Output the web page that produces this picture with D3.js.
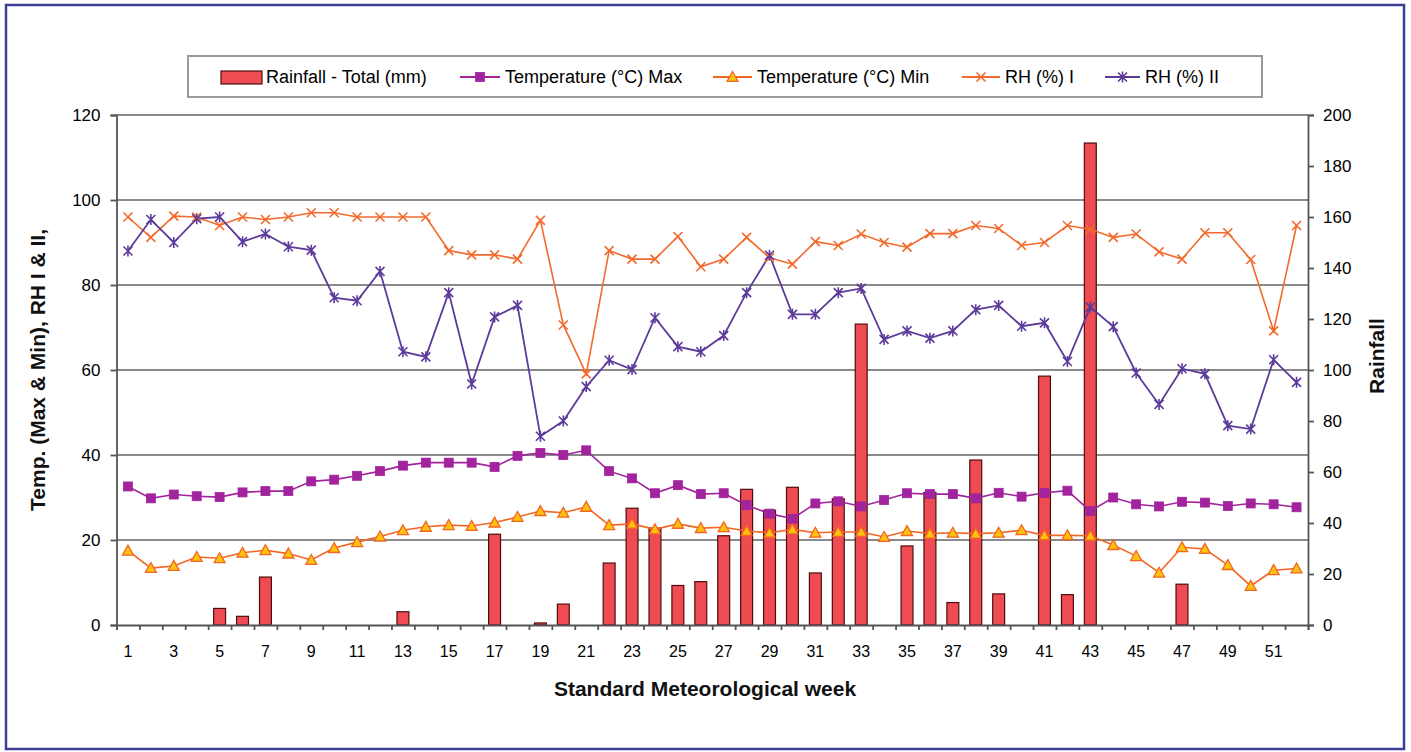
<!DOCTYPE html>
<html><head><meta charset="utf-8">
<script src="https://cdn.jsdelivr.net/npm/d3@7"></script>
<style>html,body{margin:0;padding:0;background:#fff;}svg{display:block;font-family:"Liberation Sans",Arial,sans-serif;}</style>
</head><body>
<svg id="c" width="1411" height="752"></svg>
<script>
const weeks = d3.range(1, 53);
const rainfall = [0,0,0,0,6.5,3.4,18.8,0,0,0,0,0,5.2,0,0,0,35.6,0,0.8,8.2,0,24.3,45.8,38,15.5,17,35,53.2,45,54,20.4,49.5,118,0,31,52,8.8,64.7,12.2,0,97.6,11.9,189,0,0,0,16,0,0,0,0,0];
const tempMax = [32.6,29.8,30.7,30.3,30.1,31.2,31.5,31.5,33.8,34.2,35.1,36.2,37.5,38.2,38.2,38.2,37.2,39.8,40.5,40.0,41.1,36.2,34.5,31.0,32.9,30.8,31.0,28.2,26.2,25.0,28.6,29.1,27.9,29.4,31.0,30.8,30.8,29.8,31.1,30.2,31.1,31.6,26.8,30.0,28.4,27.9,29.0,28.8,28.0,28.6,28.4,27.7];
const tempMin = [17.5,13.4,13.9,16.0,15.7,17.0,17.6,16.8,15.3,18.1,19.5,20.8,22.3,23.1,23.5,23.3,24.1,25.4,26.8,26.4,27.8,23.5,23.8,22.5,23.8,22.8,23.0,22.1,21.7,22.5,21.7,21.9,21.9,20.7,22.1,21.5,21.7,21.5,21.7,22.3,21.1,21.1,21.0,18.8,16.2,12.3,18.3,17.9,14.1,9.2,12.9,13.3];
const rh1 = [96,91.2,96.2,96,94,96,95.4,96,97,97,96,96,96,96,88.1,87.1,87.1,86.1,95.2,70.6,59.1,88.1,86.1,86.1,91.4,84.3,86.1,91.2,86.4,84.9,90.2,89.3,92,90,88.9,92.1,92.1,94,93.3,89.3,90,94,93.1,91.2,92,87.8,86.1,92.3,92.3,86,69.2,94];
const rh2 = [88,95.4,90,95.6,96,90.2,92,89,88.2,77,76.3,83.2,64.3,63.1,78.2,56.7,72.5,75.2,44.4,48,56.1,62.3,60.1,72.3,65.5,64.3,68.1,78.2,87,73.1,73.1,78.2,79.2,67.2,69.2,67.5,69.2,74.2,75.2,70.3,71.1,62,74.8,70.2,59.3,51.9,60.3,59.1,46.9,46.1,62.4,57.1];
const leftTicks = [0,20,40,60,80,100,120];
const rightTicks = [0,20,40,60,80,100,120,140,160,180,200];
const legendLabels = ["Rainfall - Total (mm)","Temperature (°C) Max","Temperature (°C) Min","RH (%) I","RH (%) II"];
const xTitle = "Standard Meteorological week";
const yTitle = "Temp. (Max & Min), RH I & II,";
const y2Title = "Rainfall";

const C = {bar:"#ef4b52", barStroke:"#4d0d0d", tmax:"#a1239d", tmin:"#f26522", tminFill:"#ffc20e", rh1:"#f26a2c", rh2:"#5d3b9a", grid:"#8a8a8a", axis:"#555"};

const svg = d3.select("#c");
const L = 116.5, R = 1308, T = 115, B = 625;

svg.append("rect").attr("x",6).attr("y",5).attr("width",1398).attr("height",744)
  .attr("fill","#fff").attr("stroke","#3b3f96").attr("stroke-width",2.5);

const x = d3.scaleBand().domain(weeks).range([L,R]).paddingInner(0).paddingOuter(0);
const xl = d3.scaleLinear().domain([0,52]).range([L,R]);
const yL = d3.scaleLinear().domain([0,120]).range([B,T]);
const yR = d3.scaleLinear().domain([0,200]).range([B,T]);
const cx = w => x(w) + x.bandwidth()/2;

// gridlines
svg.append("g").selectAll("line").data(leftTicks.filter(d=>d>0)).join("line")
  .attr("x1",L).attr("x2",R).attr("y1",d=>yL(d)).attr("y2",d=>yL(d))
  .attr("stroke",C.grid).attr("stroke-width",1.8);

// bars
const bw = x.bandwidth()*0.52;
svg.append("g").selectAll("rect").data(weeks.filter((w,i)=>rainfall[i]>0)).join("rect")
  .attr("x",w=>cx(w)-bw/2).attr("width",bw)
  .attr("y",w=>yR(rainfall[w-1])).attr("height",w=>B-yR(rainfall[w-1]))
  .attr("fill",C.bar).attr("stroke",C.barStroke).attr("stroke-width",1.2);

// axes
const axL = svg.append("g").attr("transform",`translate(${L},0)`)
  .call(d3.axisLeft(yL).tickValues(leftTicks).tickSize(6).tickPadding(10));
const axR = svg.append("g").attr("transform",`translate(${R},0)`)
  .call(d3.axisRight(yR).tickValues(rightTicks).tickSize(6).tickPadding(9));
const axB = svg.append("g").attr("transform",`translate(0,${B})`)
  .call(d3.axisBottom(xl).tickValues(d3.range(0,53)).tickSize(5).tickFormat(""));
const axBL = svg.append("g").attr("transform",`translate(0,${B})`)
  .call(d3.axisBottom(x).tickSize(0).tickPadding(21).tickFormat(d=>d%2===1?d:""));
axBL.select(".domain").remove();
[axL,axR,axB].forEach(a=>{a.selectAll(".domain,line").attr("stroke",C.axis).attr("stroke-width",1.8);});
[axL,axR,axBL].forEach(a=>a.selectAll("text").attr("font-size",17).attr("fill","#000").attr("font-family","Liberation Sans, Arial, sans-serif"));
axBL.selectAll("text").attr("font-size",16);

// line generator
const line = arr => d3.line().x((d,i)=>cx(weeks[i])).y(d=>yL(d))(arr);

function drawSeries(arr, color, width){
  svg.append("path").attr("d",line(arr)).attr("fill","none").attr("stroke",color).attr("stroke-width",width);
}
drawSeries(rh1, C.rh1, 1.6);
drawSeries(rh2, C.rh2, 1.8);
drawSeries(tempMax, C.tmax, 1.6);
drawSeries(tempMin, C.tmin, 1.6);

// markers
function xMark(g, px, py, color, star){
  const s=4.5;
  g.append("path").attr("d",`M${px-s},${py-s}L${px+s},${py+s}M${px-s},${py+s}L${px+s},${py-s}`+(star?`M${px},${py-s-1}L${px},${py+s+1}`:""))
    .attr("stroke",color).attr("stroke-width",1.6).attr("fill","none");
}
function sqMark(g, px, py){
  g.append("rect").attr("x",px-4.5).attr("y",py-4.5).attr("width",9).attr("height",9).attr("fill",C.tmax).attr("stroke",C.tmax).attr("stroke-width",0.8);
}
function triMark(g, px, py){
  const s=5.5;
  g.append("path").attr("d",`M${px},${py-s}L${px+s},${py+s*0.8}L${px-s},${py+s*0.8}Z`).attr("fill",C.tminFill).attr("stroke",C.tmin).attr("stroke-width",1.3);
}
const gm = svg.append("g");
weeks.forEach((w,i)=>{
  xMark(gm, cx(w), yL(rh1[i]), C.rh1, false);
  xMark(gm, cx(w), yL(rh2[i]), C.rh2, true);
  sqMark(gm, cx(w), yL(tempMax[i]));
  triMark(gm, cx(w), yL(tempMin[i]));
});

// titles
svg.append("text").attr("x",705).attr("y",696).attr("text-anchor","middle")
  .attr("font-size",21).attr("font-weight","bold").attr("fill","#111").text(xTitle);
svg.append("text").attr("transform","translate(45,370) rotate(-90)").attr("text-anchor","middle")
  .attr("font-size",21).attr("font-weight","bold").attr("fill","#111").text(yTitle);
svg.append("text").attr("transform","translate(1384,356) rotate(-90)").attr("text-anchor","middle")
  .attr("font-size",21).attr("font-weight","bold").attr("fill","#111").text(y2Title);

// legend
const lg = svg.append("g");
lg.append("rect").attr("x",188).attr("y",56).attr("width",1074).attr("height",41)
  .attr("fill","#fff").attr("stroke","#9a9a9a").attr("stroke-width",2);
const ly = 77;
lg.append("rect").attr("x",221).attr("y",71).attr("width",41).attr("height",13).attr("fill",C.bar).attr("stroke",C.barStroke).attr("stroke-width",1.2);
const items = [
  {x0:460,x1:500,color:C.tmax,mk:"sq"},
  {x0:713,x1:752,color:C.tmin,mk:"tri"},
  {x0:962,x1:1000,color:C.rh1,mk:"x"},
  {x0:1105,x1:1140,color:C.rh2,mk:"star"}
];
items.forEach(it=>{
  lg.append("line").attr("x1",it.x0).attr("x2",it.x1).attr("y1",ly).attr("y2",ly).attr("stroke",it.color).attr("stroke-width",1.8);
  const mx=(it.x0+it.x1)/2;
  if(it.mk==="sq") sqMark(lg,mx,ly);
  else if(it.mk==="tri") triMark(lg,mx,ly);
  else xMark(lg,mx,ly,it.color,it.mk==="star");
});
const textX = [266,505,757,1005,1145];
legendLabels.forEach((t,i)=>{
  lg.append("text").attr("x",textX[i]).attr("y",ly+6).attr("font-size",18).attr("fill","#000").text(t);
});
</script>
</body></html>
